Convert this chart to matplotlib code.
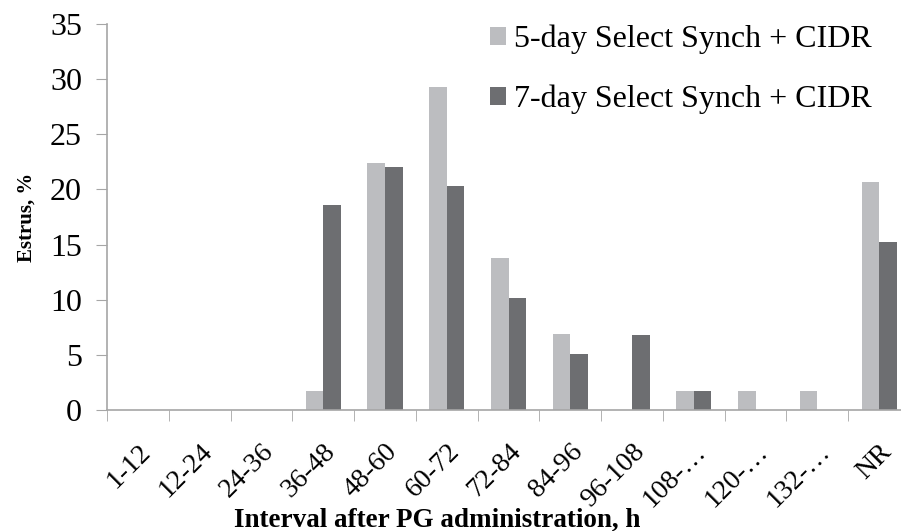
import numpy as np
import matplotlib.pyplot as plt

categories = ["1-12", "12-24", "24-36", "36-48", "48-60", "60-72", "72-84",
              "84-96", "96-108", "108-…", "120-…", "132-…", "NR"]
five_day = [0, 0, 0, 1.7, 22.4, 29.3, 13.8, 6.9, 0, 1.7, 1.7, 1.7, 20.7]
seven_day = [0, 0, 0, 18.6, 22.0, 20.3, 10.2, 5.1, 6.8, 1.7, 0, 0, 15.2]

light = "#bcbdc0"
dark = "#6d6e71"
spine = "#a6a6a6"

plt.rcParams['font.family'] = ['Liberation Serif', 'DejaVu Serif']

fig = plt.figure(figsize=(9.01, 5.31), dpi=100)
ax = fig.add_axes([107/901, 1 - 410/531, 803/901, 386/531])

x = np.arange(len(categories))
w = 0.285
ax.bar(x - w/2, five_day, w, color=light, label="5-day Select Synch + CIDR")
ax.bar(x + w/2, seven_day, w, color=dark, label="7-day Select Synch + CIDR")

ax.set_xlim(-0.5, len(categories) - 0.5)
ax.set_ylim(0, 35)
ax.set_yticks(np.arange(0, 36, 5))
ax.tick_params(axis='y', labelsize=23, length=8, color=spine, pad=10)

ax.set_xticks(x)
ax.set_xticklabels(categories, rotation=45, ha='right', rotation_mode='anchor',
                   fontsize=20)
ax.set_xticks(np.arange(-0.5, len(categories), 1), minor=True)
ax.tick_params(axis='x', which='major', length=0, pad=21)
ax.tick_params(axis='x', which='minor', length=8, color=spine)

for s in ['top', 'right']:
    ax.spines[s].set_visible(False)
for s in ['left', 'bottom']:
    ax.spines[s].set_color(spine)
    ax.spines[s].set_linewidth(1.2)

ax.set_ylabel("Estrus, %", fontsize=15, fontweight='bold', labelpad=10)
ax.set_xlabel("Interval after PG administration, h", fontsize=19.5,
              fontweight='bold')
ax.xaxis.set_label_coords(330/803, -0.285)
ax.xaxis.label.set_va('center')

ax.legend(loc='upper left', bbox_to_anchor=(477/901, 1 - 12/531),
          bbox_transform=fig.transFigure, frameon=False, fontsize=23,
          handlelength=0.5, handleheight=0.5, handletextpad=0.25,
          labelspacing=0.95, borderaxespad=0)

fig.savefig("out.png", dpi=100)
